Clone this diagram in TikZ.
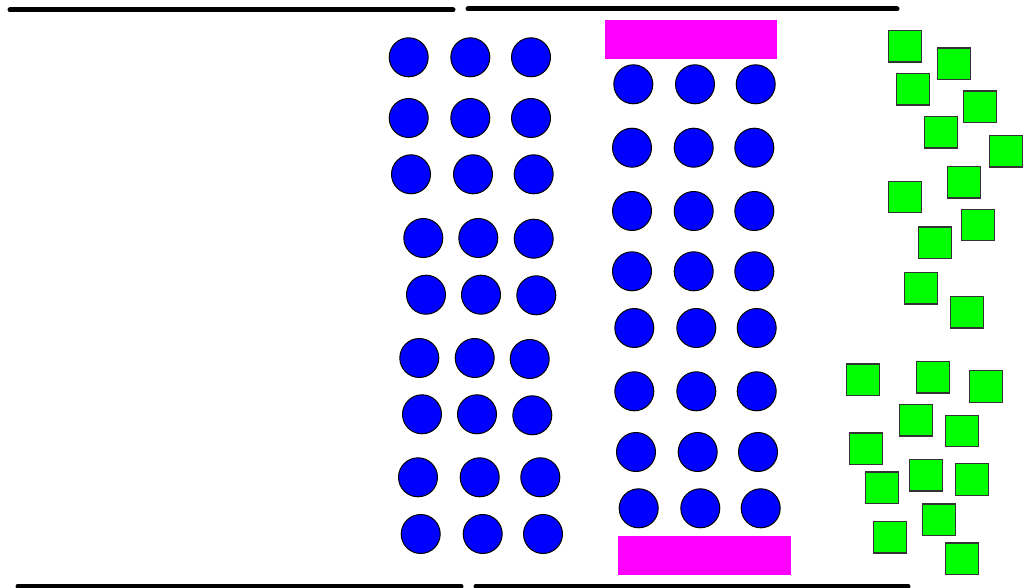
\documentclass[tikz,border=0pt]{standalone}
\definecolor{ballblue}{RGB}{0,0,255}
\definecolor{padmag}{RGB}{255,0,255}
\definecolor{sqgreen}{RGB}{0,255,0}
\begin{document}
\begin{tikzpicture}[x=1pt,y=-1pt,
  ball/.style={circle,draw=black,line width=1pt,fill=ballblue,minimum size=39pt,inner sep=0pt},
  pad/.style={rectangle,fill=padmag,draw=none,inner sep=0pt},
  grain/.style={rectangle,draw=black!80,line width=1.3pt,fill=sqgreen,minimum width=33pt,minimum height=31.5pt,inner sep=0pt},
  wall/.style={line width=5pt,line cap=round,draw=black}]
\useasboundingbox (0,0) rectangle (1026,588);
% walls
\coordinate (tl1) at (10,10);   \coordinate (tl2) at (453,10);
\coordinate (tr1) at (468,9);   \coordinate (tr2) at (897,9);
\coordinate (bl1) at (18,586);  \coordinate (bl2) at (461,586);
\coordinate (br1) at (476,586); \coordinate (br2) at (908,586);
\draw[wall] (tl1) -- (tl2);
\draw[wall] (tr1) -- (tr2);
\draw[wall] (bl1) -- (bl2);
\draw[wall] (br1) -- (br2);
% pads
\node[pad,minimum width=172pt,minimum height=39pt] (padtop) at (691,39.5) {};
\node[pad,minimum width=173pt,minimum height=39pt] (padbot) at (704.5,555.5) {};
% left column of balls
\foreach \n/\x/\y in {
  l1/408.7/57.3, l2/470.3/57.3, l3/531/57.3,
  l4/408.7/118, l5/470.3/118, l6/531/118,
  l7/411/174.3, l8/473/174.3, l9/533.7/174.3,
  l10/423.3/238, l11/478.3/238, l12/533.7/238.7,
  l13/426/294.7, l14/481/294.7, l15/536.3/295.3,
  l16/419.3/358, l17/474.7/358, l18/529.7/359,
  l19/422/414.3, l20/477/414.3, l21/532.3/415.3,
  l22/418/477.3, l23/479.7/477.3, l24/540.3/477.3,
  l25/420.7/534, l26/482.7/534, l27/543/534}
  \node[ball] (\n) at (\x,\y) {};
% right column of balls
\foreach \n/\x/\y in {
  r1/633.3/84.3, r2/695/84.3, r3/755.7/84.3,
  r4/632/147.7, r5/693.7/147.7, r6/754.3/147.7,
  r7/632/211, r8/693.7/211, r9/754.3/211,
  r10/632/271.3, r11/693.7/271.3, r12/754.3/271.3,
  r13/634.3/328, r14/696.3/328, r15/756.7/328,
  r16/634.3/391.3, r17/696.3/391.3, r18/756.7/391.3,
  r19/636/452, r20/697.7/452, r21/758/452,
  r22/638.7/508.3, r23/700.3/508.3, r24/760.7/508.3}
  \node[ball] (\n) at (\x,\y) {};
% green squares
\foreach \n/\x/\y in {
  g1/905/46.3, g2/953.7/63.8, g3/913/89.3, g4/980.3/106.7,
  g5/941.3/132.3, g6/1005.7/151.2, g7/964.3/182.3, g8/905/197,
  g9/977.7/225, g10/934.7/242.8, g11/921/288.3, g12/967/312.3,
  g13/863.3/379.8, g14/933/377.2, g15/985.7/386.5, g16/916/420.2,
  g17/961.7/431, g18/866/448.7, g19/926.3/475.3, g20/972.3/479.5,
  g21/882/487.7, g22/938.7/519.8, g23/890.3/537.2, g24/961.7/558.8}
  \node[grain] (\n) at (\x,\y) {};
\end{tikzpicture}
\end{document}
